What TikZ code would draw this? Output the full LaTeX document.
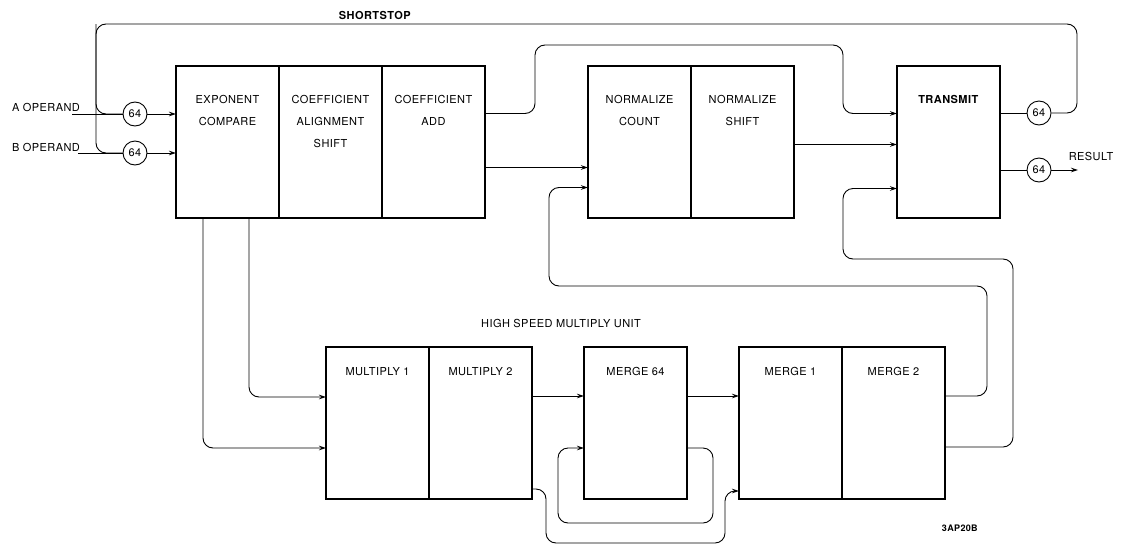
\documentclass[tikz,border=0pt]{standalone}
\usepackage{fontspec}
\setmainfont{TeX Gyre Heros}[LetterSpace=4]
\usepackage{tikz}
\usetikzlibrary{arrows.meta, positioning}

\begin{document}
\begin{tikzpicture}[
  x=1pt, y=-1pt,
  font=\fontsize{11}{22}\selectfont,
  node distance=0pt and 0pt,
  block/.style={rectangle, draw, line width=1.5pt, minimum width=103pt, minimum height=152pt, inner sep=0pt, outer sep=0pt},
  tag/.style={anchor=north, align=center, inner sep=0pt},
  toptag/.style={tag, yshift=-29pt},
  lowtag/.style={tag, yshift=-20pt},
  circ/.style={circle, draw, line width=0.9pt, minimum size=24pt, inner sep=0pt},
  line/.style={draw, line width=0.9pt, rounded corners=10pt, >={Stealth[length=7pt, width=4.5pt]}}
]
  \useasboundingbox (0,0) rectangle (1126,546);

  \node [block, label={[toptag]north:EXPONENT\\COMPARE}] (expc) at (176,66) [anchor=north west] {};
  \node [block, label={[toptag]north:COEFFICIENT\\ALIGNMENT\\SHIFT}] (calign) [right=of expc] {};
  \node [block, label={[toptag]north:COEFFICIENT\\ADD}] (cadd) [right=of calign] {};
  \node [block, label={[toptag]north:NORMALIZE\\COUNT}] (ncount) [right=103pt of cadd] {};
  \node [block, label={[toptag]north:NORMALIZE\\SHIFT}] (nshift) [right=of ncount] {};
  \node [block, label={[toptag]north:\textbf{TRANSMIT}}] (transmit) [right=103pt of nshift] {};

  \node [block, label={[lowtag]north:MULTIPLY 1}] (mult1) at (326,347) [anchor=north west] {};
  \node [block, label={[lowtag]north:MULTIPLY 2}] (mult2) [right=of mult1] {};
  \node [block, label={[lowtag]north:MERGE 64}] (merge64) [right=52pt of mult2] {};
  \node [block, label={[lowtag]north:MERGE 1}] (merge1) [right=52pt of merge64] {};
  \node [block, label={[lowtag]north:MERGE 2}] (merge2) [right=of merge1] {};

  \node [circ] (ca) at (135,114) {64};
  \node [circ] (cb) at (135,153) {64};
  \node [circ] (cs) at (1039,113) {64};
  \node [circ] (cr) at (1039,170) {64};

  \node (aop) at (46,107) {A OPERAND};
  \node (bop) at (46,147) {B OPERAND};
  \node (shortstop) at (375,15) {\textbf{SHORTSTOP}};
  \node (result) at (1091,156) {RESULT};
  \node (hsmu) at (561,323) {HIGH SPEED MULTIPLY UNIT};
  \node (drawno) at (960,528) {\textbf{\small 3AP20B}};

  \coordinate (ain) at (72,114);
  \coordinate (bin) at (78,153);
  \coordinate (out) at (1078,170);
  \coordinate (ssr) at (1077,24);
  \coordinate (ssl) at (96,24);

  \draw [line] (ain) -- (ca);
  \draw [line] (bin) -- (cb);
  \draw [line, ->] (ca) -- (ca -| expc.west);
  \draw [line, ->] (cb) -- (cb -| expc.west);
  \draw [line] (transmit.east |- cs) -- (cs);
  \draw [line] (transmit.east |- cr) -- (cr);
  \draw [line, ->] (cr) -- (out);
  \draw [line] (cs) -| (ssr) -- (ssl) |- (cb);
  \draw [line] (ssl) |- (ca);

  \draw [line, ->] ([yshift=28.5pt]cadd.east) -- ++(50,0) |- ([xshift=-54pt,yshift=21pt]transmit.north west) |- ([yshift=28.5pt]transmit.west);
  \draw [line, ->] ([yshift=-25.5pt]cadd.east) -- ([yshift=-25.5pt]ncount.west);
  \draw [line, ->] ([yshift=-2.5pt]nshift.east) -- ([yshift=-2.5pt]transmit.west);

  \draw [line, ->] ([xshift=73pt]expc.south west) |- ([yshift=26pt]mult1.west);
  \draw [line, ->] ([xshift=27pt]expc.south west) |- ([yshift=-25pt]mult1.west);
  \draw [line, ->] ([yshift=27pt]mult2.east) -- ([yshift=27pt]merge64.west);
  \draw [line, ->] ([yshift=27pt]merge64.east) -- ([yshift=27pt]merge1.west);
  \draw [line, ->] ([yshift=-25pt]merge64.east) -| ([xshift=26pt,yshift=-24pt]merge64.south east) -| ([xshift=-26pt,yshift=-25pt]merge64.west) -- ([yshift=-25pt]merge64.west);
  \draw [line, ->] ([yshift=10pt]mult2.south east) -| ([xshift=14pt,yshift=-44pt]mult2.south east) -| ([xshift=-14pt,yshift=8pt]merge1.south west) -- ([yshift=8pt]merge1.south west);

  \draw [line, ->] ([yshift=27pt]merge2.east) -| ([xshift=42pt,yshift=61pt]merge2.north east) -| ([xshift=-39pt,yshift=-45.5pt]ncount.west) -- ([yshift=-45.5pt]ncount.west);
  \draw [line, ->] ([yshift=-24pt]merge2.east) -| ([xshift=68pt,yshift=88pt]merge2.north east) -| ([xshift=-54pt,yshift=-46.5pt]transmit.west) -- ([yshift=-46.5pt]transmit.west);
\end{tikzpicture}
\end{document}
